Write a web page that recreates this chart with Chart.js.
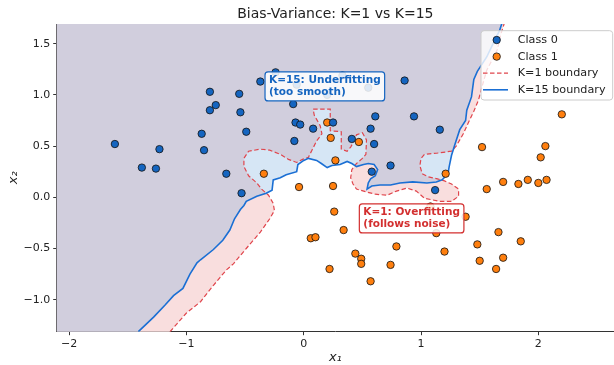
<!DOCTYPE html>
<html>
<head>
<meta charset="utf-8">
<script src="https://cdn.jsdelivr.net/npm/chart.js@4.4.0/dist/chart.umd.min.js"></script>
<style>
  html, body { margin: 0; padding: 0; background: #fff; }
  #wrap { width: 614px; height: 365px; }
</style>
</head>
<body>
<div id="wrap"><canvas id="chart"></canvas></div>
<script>
const xRange = [-2.106, 2.645];
const yRange = [-1.3125, 1.692];
const xTicks = [-2, -1, 0, 1, 2];
const yTicks = [-1.0, -0.5, 0.0, 0.5, 1.0, 1.5];
const seriesNames = ["Class 0", "Class 1", "K=1 boundary", "K=15 boundary"];

const class0Points = [
    [-1.61, 0.52], [-1.38, 0.29], [-1.26, 0.28], [-1.23, 0.47], [-0.87, 0.62], [-0.85, 0.46],
    [-0.80, 1.03], [-0.80, 0.85], [-0.75, 0.90], [-0.66, 0.23], [-0.55, 1.01], [-0.54, 0.83],
    [-0.49, 0.64], [-0.37, 1.13], [-0.24, 1.22], [-0.09, 0.91], [-0.07, 0.73], [-0.03, 0.71],
    [-0.08, 0.55], [-0.53, 0.04], [0.08, 0.67], [0.25, 0.73], [0.20, 1.00], [0.33, 1.19],
    [-0.06, 1.10], [0.41, 0.57], [0.57, 0.67], [0.61, 0.79], [0.60, 0.52], [0.58, 0.25],
    [0.55, 1.07], [0.86, 1.14], [0.94, 0.79], [1.16, 0.66], [0.74, 0.31], [1.12, 0.07]
];

const class1Points = [
    [0.20, 0.73], [0.23, 0.58], [0.47, 0.54], [0.27, 0.36], [-0.34, 0.23], [-0.04, 0.10],
    [0.25, 0.11], [1.21, 0.23], [1.52, 0.49], [2.06, 0.50], [2.02, 0.39], [2.20, 0.81],
    [1.56, 0.08], [1.70, 0.15], [1.83, 0.13], [1.91, 0.17], [2.00, 0.14], [2.07, 0.17],
    [0.26, -0.14], [0.34, -0.32], [0.06, -0.40], [0.10, -0.39], [0.22, -0.70], [0.44, -0.55],
    [0.49, -0.60], [0.49, -0.65], [0.57, -0.82], [0.74, -0.66], [0.79, -0.48], [1.13, -0.35],
    [1.20, -0.53], [1.38, -0.19], [1.48, -0.46], [1.50, -0.62], [1.66, -0.34], [1.70, -0.59],
    [1.64, -0.70], [1.85, -0.43], [1.08, -0.09]
];

// K=1 decision boundary, bottom left to top right
const k1Boundary = [
    [-1.14, -1.3125], [-1.00, -1.13], [-0.88, -1.02], [-0.77, -0.86], [-0.66, -0.71], [-0.60, -0.65],
    [-0.49, -0.50], [-0.37, -0.34], [-0.29, -0.21], [-0.25, -0.13], [-0.26, -0.06], [-0.30, 0.02],
    [-0.36, 0.08], [-0.40, 0.14], [-0.47, 0.21], [-0.51, 0.30], [-0.51, 0.38], [-0.47, 0.45],
    [-0.37, 0.47], [-0.29, 0.46], [-0.20, 0.42], [-0.13, 0.37], [-0.06, 0.34], [-0.01, 0.37],
    [0.04, 0.39], [0.07, 0.46], [0.11, 0.55], [0.155, 0.62], [0.14, 0.70], [0.09, 0.80],
    [0.08, 0.86], [0.226, 0.86], [0.226, 0.65], [0.32, 0.64], [0.32, 0.47], [0.37, 0.45],
    [0.40, 0.49], [0.43, 0.55], [0.45, 0.61], [0.50, 0.63], [0.535, 0.56], [0.53, 0.42],
    [0.50, 0.38], [0.45, 0.33], [0.41, 0.27], [0.40, 0.19], [0.42, 0.13], [0.45, 0.08],
    [0.54, 0.05], [0.61, 0.03], [0.71, 0.02], [0.79, 0.06], [0.88, 0.09], [0.96, 0.06],
    [1.03, -0.01], [1.16, -0.04], [1.26, -0.04], [1.32, 0.01], [1.32, 0.08], [1.26, 0.13],
    [1.20, 0.16], [1.14, 0.18], [1.06, 0.20], [1.01, 0.23], [0.99, 0.31], [1.00, 0.38],
    [1.03, 0.42], [1.13, 0.43], [1.26, 0.45], [1.30, 0.50], [1.36, 0.62], [1.40, 0.72],
    [1.45, 0.84], [1.49, 0.95], [1.52, 1.08], [1.56, 1.24], [1.65, 1.44], [1.68, 1.59],
    [1.71, 1.70]
];

// K=15 decision boundary, bottom left to top right
const k15Boundary = [
    [-1.41, -1.3125], [-1.28, -1.17], [-1.18, -1.05], [-1.11, -0.96], [-1.03, -0.89], [-0.97, -0.75],
    [-0.91, -0.64], [-0.88, -0.61], [-0.77, -0.51], [-0.69, -0.42], [-0.63, -0.32], [-0.59, -0.21],
    [-0.54, -0.12], [-0.51, -0.08], [-0.49, -0.04], [-0.40, 0.01], [-0.32, 0.04], [-0.27, 0.07],
    [-0.26, 0.17], [-0.20, 0.19], [-0.15, 0.22], [-0.06, 0.25], [-0.05, 0.32], [0.00, 0.36],
    [0.04, 0.38], [0.11, 0.36], [0.15, 0.33], [0.20, 0.29], [0.24, 0.31], [0.31, 0.32],
    [0.37, 0.35], [0.41, 0.33], [0.45, 0.30], [0.51, 0.32], [0.55, 0.33], [0.60, 0.32],
    [0.63, 0.27], [0.61, 0.21], [0.57, 0.18], [0.55, 0.14], [0.54, 0.08], [0.58, 0.11],
    [0.65, 0.12], [0.74, 0.12], [0.82, 0.14], [0.93, 0.15], [1.05, 0.14], [1.13, 0.15],
    [1.18, 0.17], [1.23, 0.23], [1.24, 0.30], [1.26, 0.41], [1.29, 0.52], [1.33, 0.66],
    [1.38, 0.75], [1.39, 0.85], [1.43, 0.98], [1.45, 1.15], [1.48, 1.23], [1.56, 1.37],
    [1.61, 1.49], [1.67, 1.63], [1.69, 1.70]
];

const FONT = "'DejaVu Sans', sans-serif";
const BLUE_PT = "#1565c0";
const ORANGE_PT = "#ff7f0e";
const K1_COLOR = "#e0454c";
const K15_COLOR = "#1a6fd4";

const toXY = pts => pts.map(([x, y]) => ({x, y}));
// the class-0 side of each boundary, closed round the upper left corner
const closeLeft = pts => [...pts, [xRange[0] - 0.5, yRange[1] + 0.5], [xRange[0] - 0.5, yRange[0] - 0.5]];
const fmtMinus = s => s.replace("-", "\u2212");

function drawNote(ctx, left, top, lines, color) {
    ctx.save();
    ctx.font = "bold 10.5px " + FONT;
    const w = Math.max(...lines.map(l => ctx.measureText(l).width)) + 8;
    ctx.beginPath();
    ctx.roundRect(left, top, w, 29, 3);
    ctx.fillStyle = "rgba(255,255,255,0.85)";
    ctx.fill();
    ctx.lineWidth = 1.2;
    ctx.strokeStyle = color;
    ctx.stroke();
    ctx.fillStyle = color;
    ctx.textAlign = "left";
    ctx.textBaseline = "middle";
    lines.forEach((l, i) => ctx.fillText(l, left + 4, top + 8 + i * 12.5));
    ctx.restore();
}

function drawLegend(ctx, area) {
    const lx = area.right - 133, ly = area.top + 6.7;
    ctx.save();
    ctx.beginPath();
    ctx.roundRect(lx, ly, 131.7, 69.3, 3);
    ctx.fillStyle = "rgba(255,255,255,0.8)";
    ctx.fill();
    ctx.lineWidth = 1;
    ctx.strokeStyle = "#cccccc";
    ctx.stroke();

    ctx.font = "11.2px " + FONT;
    ctx.textAlign = "left";
    ctx.textBaseline = "middle";
    seriesNames.forEach((name, i) => {
        const cy = ly + 9.3 + i * 16.6;
        if (i < 2) {
            ctx.beginPath();
            ctx.arc(lx + 15.7, cy, 3.7, 0, Math.PI * 2);
            ctx.fillStyle = i === 0 ? BLUE_PT : ORANGE_PT;
            ctx.fill();
            ctx.lineWidth = 0.8;
            ctx.strokeStyle = "#111";
            ctx.stroke();
        } else {
            ctx.beginPath();
            ctx.moveTo(lx + 2, cy);
            ctx.lineTo(lx + 27, cy);
            ctx.strokeStyle = i === 2 ? K1_COLOR : K15_COLOR;
            ctx.lineWidth = i === 2 ? 1.2 : 1.6;
            ctx.setLineDash(i === 2 ? [4.5, 2.5] : []);
            ctx.stroke();
            ctx.setLineDash([]);
        }
        ctx.fillStyle = "#222";
        ctx.fillText(name, lx + 36.7, cy);
    });
    ctx.restore();
}

const overlay = {
    id: "overlay",
    afterDraw(chart) {
        const {ctx, chartArea, scales: {x, y}} = chart;
        drawNote(ctx, x.getPixelForValue(-0.33), y.getPixelForValue(1.224),
            ["K=15: Underfitting", "(too smooth)"], "#1565c0");
        drawNote(ctx, x.getPixelForValue(0.474), y.getPixelForValue(-0.065),
            ["K=1: Overfitting", "(follows noise)"], "#d32f2f");
        drawLegend(ctx, chartArea);
    }
};

const axisStyle = {
    grid: {display: true, drawOnChartArea: false, drawTicks: true, tickLength: 3.5, tickColor: "#333", tickWidth: 1},
    border: {display: true, color: "#333", width: 1}
};

new Chart(document.getElementById("chart"), {
    type: "scatter",
    data: {
        datasets: [
            {
                label: seriesNames[0], data: toXY(class0Points), order: 0,
                backgroundColor: BLUE_PT, borderColor: "#111", borderWidth: 0.8, pointRadius: 3.7
            },
            {
                label: seriesNames[1], data: toXY(class1Points), order: 1,
                backgroundColor: ORANGE_PT, borderColor: "#111", borderWidth: 0.8, pointRadius: 3.7
            },
            {
                type: "line", label: seriesNames[3], data: toXY(k15Boundary), order: 2,
                borderColor: K15_COLOR, borderWidth: 1.6, pointRadius: 0, fill: false, tension: 0
            },
            {
                type: "line", label: seriesNames[2], data: toXY(k1Boundary), order: 3,
                borderColor: K1_COLOR, borderWidth: 1.2, borderDash: [4.5, 2.5], pointRadius: 0, fill: false, tension: 0
            },
            {
                type: "line", label: "K=15 region", data: toXY(closeLeft(k15Boundary)), order: 4,
                borderColor: "rgba(0,0,0,0)", borderWidth: 0, pointRadius: 0, tension: 0,
                fill: "shape", backgroundColor: "rgba(109,165,219,0.28)"
            },
            {
                type: "line", label: "K=1 region", data: toXY(closeLeft(k1Boundary)), order: 5,
                borderColor: "rgba(0,0,0,0)", borderWidth: 0, pointRadius: 0, tension: 0,
                fill: "shape", backgroundColor: "#f9dede"
            }
        ]
    },
    options: {
        responsive: true,
        maintainAspectRatio: false,
        animation: false,
        events: [],
        layout: {padding: 0, autoPadding: false},
        plugins: {
            legend: {display: false},
            tooltip: {enabled: false},
            title: {
                display: true,
                text: "Bias-Variance: K=1 vs K=15",
                fullSize: false,
                color: "#222",
                font: {family: FONT, size: 14, weight: "normal"},
                padding: {top: 5.5, bottom: 1.7}
            }
        },
        scales: {
            x: {
                type: "linear", min: xRange[0], max: xRange[1],
                afterBuildTicks: s => { s.ticks = xTicks.map(v => ({value: v})); },
                afterFit: s => { s.height = 33.3; },
                ticks: {
                    font: {family: FONT, size: 11}, color: "#222", padding: 2,
                    callback: v => fmtMinus(String(v))
                },
                title: {
                    display: true, text: "x\u2081", color: "#222",
                    font: {family: FONT, size: 13, style: "italic"}, padding: {top: 0, bottom: 0}
                },
                ...axisStyle
            },
            y: {
                type: "linear", min: yRange[0], max: yRange[1],
                afterBuildTicks: s => { s.ticks = yTicks.map(v => ({value: v})); },
                afterFit: s => { s.width = 56.7; },
                ticks: {
                    font: {family: FONT, size: 11}, color: "#222", padding: 3,
                    callback: v => fmtMinus(v.toFixed(1))
                },
                title: {
                    display: true, text: "x\u2082", color: "#222",
                    font: {family: FONT, size: 13, style: "italic"}, padding: {top: 6, bottom: 0}
                },
                ...axisStyle
            }
        }
    },
    plugins: [overlay]
});
</script>
</body>
</html>
